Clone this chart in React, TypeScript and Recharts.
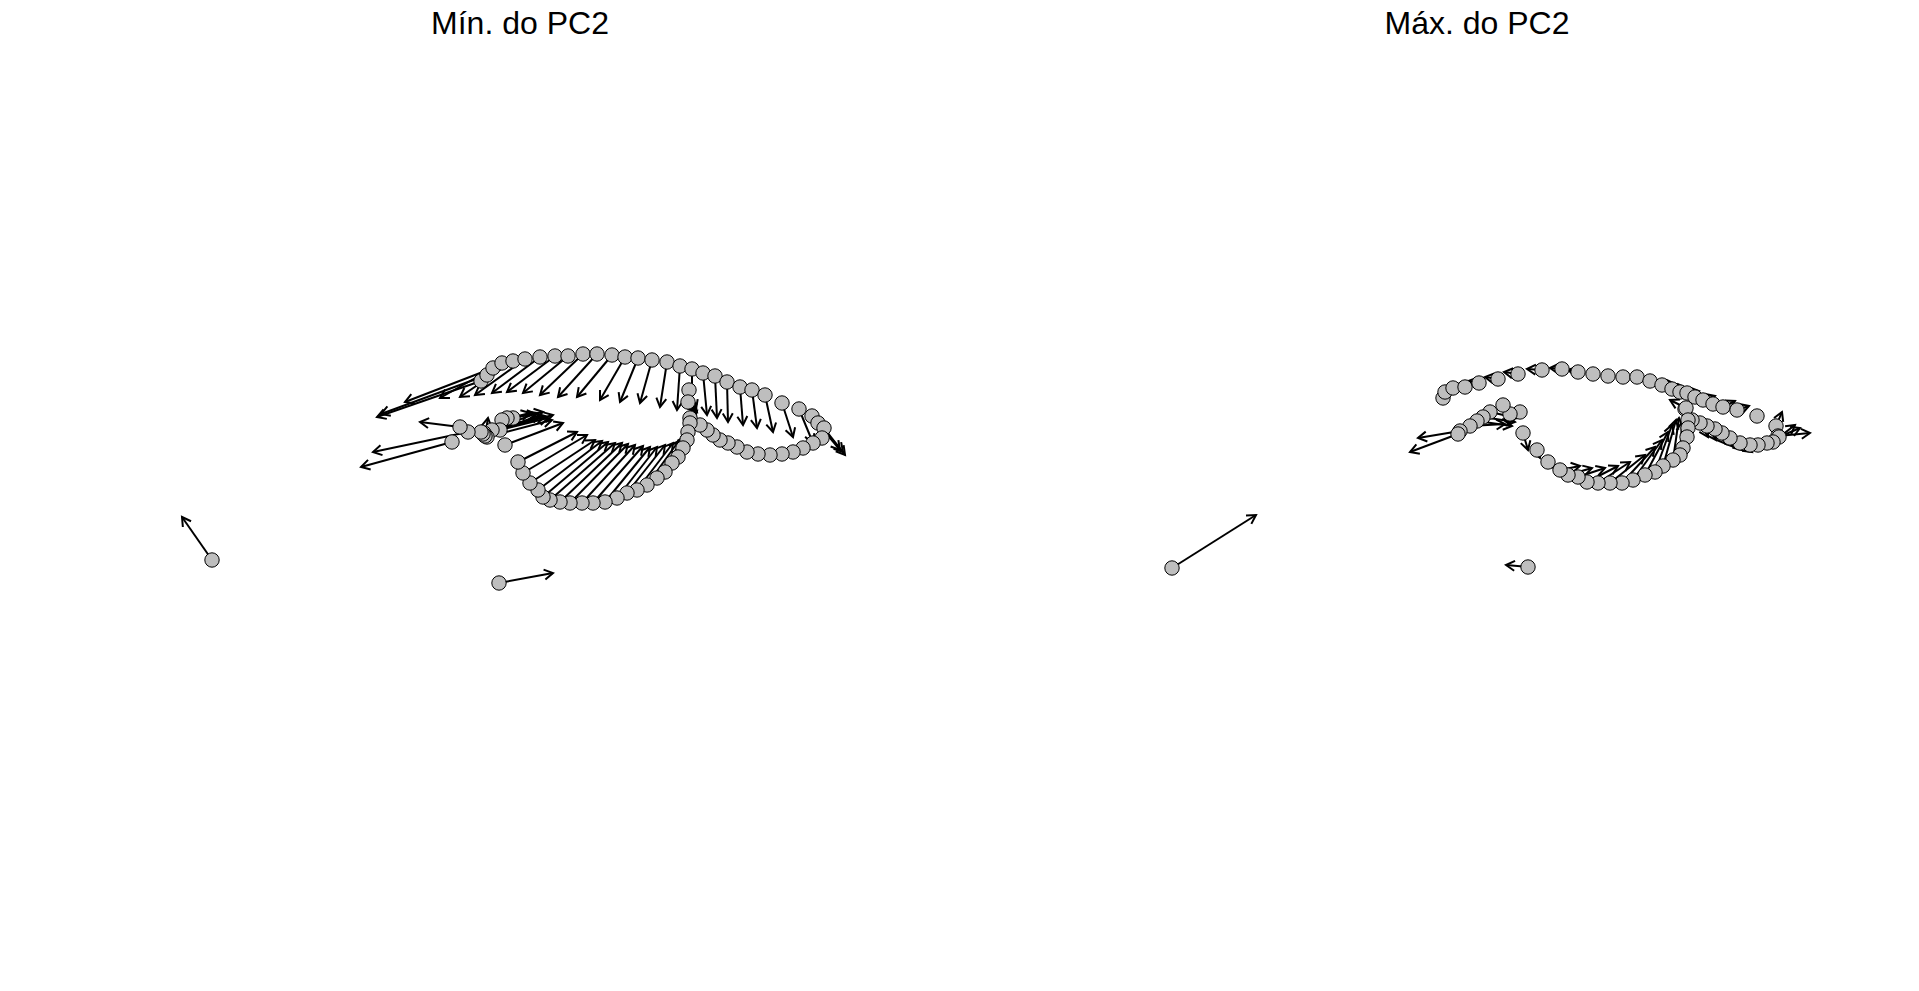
import React from 'react';
import { ScatterChart, Scatter, XAxis, YAxis, ReferenceLine } from 'recharts';

// each landmark: [x, y, targetX, targetY] in page coordinates
type Landmark = [number, number, number, number];

const minUpperArc: Landmark[] = [
  [481, 381, 377, 417], [487, 375, 381, 414], [493, 368, 405, 402], [502, 363, 440, 398],
  [513, 361, 460, 397], [525, 359, 475, 395], [540, 357, 492, 393], [555, 356, 507, 392],
  [568, 356, 523, 393], [583, 354, 540, 395], [597, 354, 558, 397], [612, 355, 577, 397],
  [625, 357, 600, 400], [638, 358, 620, 402], [652, 360, 640, 403], [667, 362, 660, 407],
  [680, 366, 677, 410], [692, 369, 692, 412], [703, 373, 707, 415], [715, 376, 717, 418],
  [727, 382, 728, 422], [740, 387, 743, 425], [752, 390, 757, 428], [765, 395, 773, 432],
  [782, 403, 793, 437], [799, 409, 813, 443], [812, 416, 840, 450], [818, 423, 843, 452],
  [824, 428, 845, 455],
];

const minLowerCurve: Landmark[] = [
  [822, 438, 822, 438], [813, 443, 813, 443], [803, 448, 803, 448], [793, 452, 793, 452],
  [782, 454, 782, 454], [770, 455, 770, 455], [758, 454, 758, 454], [747, 452, 747, 452],
  [737, 447, 737, 447], [728, 443, 728, 443], [720, 440, 720, 440], [713, 435, 713, 435],
  [707, 430, 707, 430], [700, 425, 700, 425],
];

const minNeckBowl: Landmark[] = [
  [689, 390, 696, 409], [688, 402, 697, 412], [690, 418, 697, 411], [690, 423, 696, 413],
  [688, 432, 695, 416], [687, 440, 694, 420], [683, 448, 693, 425], [678, 457, 691, 428],
  [672, 463, 689, 432], [665, 472, 686, 436], [657, 478, 683, 439], [647, 485, 678, 442],
  [637, 490, 673, 443], [627, 493, 665, 445], [617, 498, 657, 447], [605, 502, 650, 447],
  [593, 503, 643, 446], [582, 503, 635, 445], [570, 503, 628, 444], [560, 502, 622, 443],
  [550, 500, 615, 443], [543, 497, 608, 442], [538, 490, 602, 441], [530, 483, 595, 440],
  [523, 473, 587, 435], [518, 462, 577, 432], [505, 445, 563, 423],
];

const minInner: Landmark[] = [
  [513, 418, 543, 412], [507, 418, 536, 414], [502, 420, 530, 413], [500, 430, 540, 415],
  [492, 430, 537, 413], [484, 433, 553, 415], [487, 437, 552, 420], [485, 436, 488, 418],
  [483, 434, 548, 418], [481, 432, 545, 416], [468, 432, 373, 452], [460, 427, 420, 422],
  [452, 442, 361, 467],
];

const minIsolated: Landmark[] = [
  [212, 560, 182, 517], [499, 583, 553, 573],
];

const maxUpperArc: Landmark[] = [
  [1443, 398, 1443, 398], [1445, 392, 1445, 392], [1453, 388, 1453, 388], [1465, 387, 1455, 385],
  [1479, 383, 1468, 381], [1498, 379, 1485, 377], [1518, 374, 1504, 372], [1542, 370, 1527, 369],
  [1562, 369, 1550, 368], [1578, 372, 1568, 370], [1593, 374, 1593, 374], [1608, 376, 1608, 376],
  [1623, 377, 1623, 377], [1637, 377, 1637, 377], [1650, 381, 1650, 381], [1662, 385, 1675, 384],
  [1672, 389, 1686, 388], [1680, 392, 1680, 392], [1687, 393, 1699, 391], [1695, 397, 1695, 397],
  [1703, 400, 1715, 396], [1713, 404, 1713, 404], [1723, 407, 1735, 401], [1737, 410, 1749, 406],
  [1757, 416, 1757, 416], [1776, 426, 1782, 412], [1778, 436, 1810, 433],
];

const maxLowerCurve: Landmark[] = [
  [1779, 437, 1800, 428], [1773, 442, 1795, 425], [1767, 443, 1767, 443], [1758, 445, 1758, 445],
  [1750, 445, 1750, 445], [1740, 443, 1752, 452], [1730, 438, 1742, 450], [1722, 433, 1734, 447],
  [1715, 429, 1726, 444], [1707, 426, 1716, 440], [1700, 423, 1708, 437], [1692, 420, 1692, 420],
  [1685, 409, 1685, 409],
];

const maxNeckBowl: Landmark[] = [
  [1686, 408, 1670, 400], [1688, 420, 1688, 420], [1688, 428, 1688, 428], [1687, 437, 1687, 437],
  [1683, 448, 1683, 448], [1680, 455, 1682, 422], [1673, 460, 1679, 418], [1663, 466, 1676, 420],
  [1655, 472, 1672, 425], [1645, 475, 1668, 432], [1633, 480, 1662, 440], [1622, 483, 1655, 447],
  [1610, 483, 1645, 455], [1598, 483, 1630, 462], [1587, 482, 1618, 466], [1578, 477, 1605, 468],
  [1568, 475, 1592, 468], [1560, 470, 1580, 466], [1548, 462, 1555, 468], [1537, 450, 1540, 458],
  [1523, 433, 1528, 450],
];

const maxInner: Landmark[] = [
  [1520, 412, 1520, 412], [1510, 414, 1510, 414], [1503, 405, 1510, 425], [1490, 412, 1517, 418],
  [1483, 417, 1515, 422], [1477, 421, 1512, 426], [1470, 426, 1505, 424], [1460, 431, 1418, 438],
  [1458, 434, 1410, 452],
];

const maxIsolated: Landmark[] = [
  [1172, 568, 1256, 515], [1528, 567, 1506, 565],
];

const H = 991;
const FONT = '"Liberation Sans", Arial, sans-serif';

function Arrow(props: any) {
  const { x1, y1, x2, y2 } = props;
  const dx = x2 - x1;
  const dy = y2 - y1;
  if (Math.hypot(dx, dy) < 0.5) return null;
  const a = Math.atan2(dy, dx);
  const h = 10;
  const s = Math.PI / 6;
  const ax = x2 - h * Math.cos(a - s);
  const ay = y2 - h * Math.sin(a - s);
  const bx = x2 - h * Math.cos(a + s);
  const by = y2 - h * Math.sin(a + s);
  return (
    <g>
      <line x1={x1} y1={y1} x2={x2} y2={y2} stroke="#000" strokeWidth={2} />
      <polyline points={`${ax},${ay} ${x2},${y2} ${bx},${by}`} fill="none" stroke="#000" strokeWidth={2} />
    </g>
  );
}

function Dot(props: any) {
  return <circle cx={props.cx} cy={props.cy} r={7.2} fill="#BEBEBE" stroke="#000" strokeWidth={1} />;
}

interface PanelProps {
  title: string;
  landmarks: Landmark[];
  x0: number;
  width: number;
  titleX: number;
}

function Panel({ title, landmarks, x0, width, titleX }: PanelProps) {
  const points = landmarks.map(([x, y]) => ({ x, y }));
  const vectors = landmarks.filter(([x, y, tx, ty]) => tx !== x || ty !== y);

  return (
    <div style={{ position: 'relative', width, height: H }}>
      <ScatterChart width={width} height={H} margin={{ top: 0, right: 0, bottom: 0, left: 0 }}>
        <XAxis type="number" dataKey="x" domain={[x0, x0 + width]} allowDataOverflow hide />
        <YAxis type="number" dataKey="y" domain={[0, H]} allowDataOverflow reversed hide />
        {vectors.map(([x, y, tx, ty], i) => (
          <ReferenceLine key={i} segment={[{ x, y }, { x: tx, y: ty }]} shape={Arrow} />
        ))}
        <Scatter data={points} isAnimationActive={false} shape={Dot} />
      </ScatterChart>
      <div
        style={{
          position: 'absolute',
          top: 5,
          left: titleX - x0,
          transform: 'translateX(-50%)',
          fontFamily: FONT,
          fontSize: 32,
          color: '#000',
          whiteSpace: 'nowrap',
        }}
      >
        {title}
      </div>
    </div>
  );
}

export default function App() {
  const minLandmarks = [...minUpperArc, ...minLowerCurve, ...minNeckBowl, ...minInner, ...minIsolated];
  const maxLandmarks = [...maxUpperArc, ...maxLowerCurve, ...maxNeckBowl, ...maxInner, ...maxIsolated];

  return (
    <div style={{ position: 'absolute', left: 0, top: 0, width: 1919, height: H, display: 'flex', background: '#fff' }}>
      <Panel title="Mín. do PC2" landmarks={minLandmarks} x0={0} width={959} titleX={520} />
      <Panel title="Máx. do PC2" landmarks={maxLandmarks} x0={959} width={960} titleX={1477} />
    </div>
  );
}
